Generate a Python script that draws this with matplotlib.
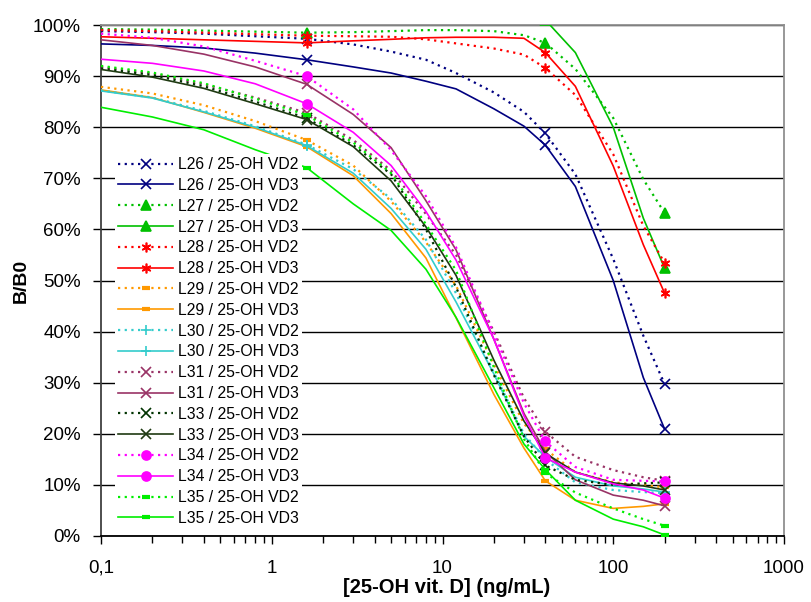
import numpy as np
import matplotlib
matplotlib.use('Agg')
import matplotlib.pyplot as plt
from matplotlib.ticker import FixedLocator, FuncFormatter, LogLocator, NullFormatter

plt.rcParams['font.family'] = ['Liberation Sans', 'DejaVu Sans']

nan = np.nan

# concentration grid (ng/mL)
conc = [0.1, 0.2, 0.4, 0.8, 1.6, 3, 5, 8, 12, 20, 30, 40, 60, 100, 150, 200]
# markers are shown only at the measured standards
measured_idx = [4, 11, 15]

# B/B0 in %
L26_VD2 = [98.8, 98.6, 98.3, 97.8, 97.3, 96.2, 94.8, 93.2, 90.6, 86.8, 83.0, 78.8, 70.8, 54.2, 39.2, 29.7]
L26_VD3 = [96.3, 96.0, 95.5, 94.5, 93.2, 91.8, 90.6, 89.0, 87.5, 83.6, 80.2, 76.5, 68.4, 50.0, 31.0, 20.9]
L27_VD2 = [99.2, 99.1, 98.9, 98.7, 98.5, 98.6, 98.8, 99.0, 99.0, 98.8, 98.0, 96.5, 91.4, 81.8, 69.8, 63.2]
L27_VD3 = [nan, nan, nan, nan, nan, nan, nan, nan, nan, nan, nan, 101.0, 94.6, 80.0, 62.2, 52.4]
L28_VD2 = [99.0, 98.8, 98.5, 98.2, 97.9, 97.8, 97.7, 97.2, 96.4, 95.4, 94.2, 91.6, 86.3, 74.7, 60.7, 53.4]
L28_VD3 = [97.7, 97.4, 97.1, 96.8, 96.5, 96.9, 97.2, 97.5, 97.6, 97.6, 97.4, 94.6, 88.0, 72.4, 57.0, 47.5]
L29_VD2 = [87.9, 86.6, 84.3, 81.2, 77.5, 72.5, 65.5, 57.5, 49.0, 33.5, 22.0, 17.0, 12.5, 10.5, 10.0, 9.5]
L29_VD3 = [87.3, 85.8, 82.9, 79.8, 76.2, 70.5, 63.1, 54.4, 42.7, 27.7, 17.2, 10.8, 7.0, 5.4, 5.8, 6.3]
L30_VD2 = [87.2, 85.8, 83.2, 80.2, 76.6, 71.8, 66.0, 58.0, 47.5, 32.0, 20.0, 15.0, 10.5, 9.0, 8.6, 8.4]
L30_VD3 = [87.1, 85.7, 83.0, 80.0, 76.4, 71.0, 64.1, 56.1, 45.8, 31.7, 19.5, 15.5, 11.5, 9.8, 9.2, 8.6]
L31_VD2 = [91.8, 90.5, 88.4, 85.8, 82.8, 77.5, 71.5, 63.0, 55.0, 40.0, 27.0, 20.4, 15.5, 12.9, 11.5, 10.8]
L31_VD3 = [97.1, 96.0, 94.3, 91.8, 88.4, 82.5, 76.0, 65.6, 56.0, 38.5, 24.0, 16.5, 11.0, 8.0, 7.0, 5.9]
L33_VD2 = [91.5, 90.2, 88.0, 85.0, 81.8, 76.5, 70.8, 60.0, 48.7, 31.5, 19.5, 13.8, 11.0, 10.0, 10.3, 10.5]
L33_VD3 = [91.3, 89.8, 87.6, 84.6, 81.5, 76.2, 69.5, 60.5, 51.0, 34.4, 22.5, 16.2, 12.5, 10.4, 9.8, 9.0]
L34_VD2 = [98.3, 97.5, 95.8, 93.0, 90.0, 83.5, 75.5, 66.5, 56.5, 39.5, 26.0, 18.5, 13.5, 11.0, 10.8, 10.7]
L34_VD3 = [93.3, 92.5, 91.0, 88.5, 84.6, 79.0, 72.5, 63.5, 54.0, 38.5, 23.5, 15.3, 12.5, 10.2, 9.0, 7.4]
L35_VD2 = [92.0, 90.7, 88.6, 85.6, 82.4, 77.0, 71.0, 61.0, 52.0, 33.0, 19.0, 12.3, 8.5, 5.4, 3.3, 2.0]
L35_VD3 = [83.9, 82.0, 79.5, 75.6, 72.1, 65.0, 59.8, 52.2, 42.8, 29.0, 18.0, 13.0, 7.0, 3.3, 1.8, 0.2]

# (label, values, colour, marker, dotted?)
series = [
    ('L26 / 25-OH VD2', L26_VD2, '#000080', 'x', True),
    ('L26 / 25-OH VD3', L26_VD3, '#000080', 'x', False),
    ('L27 / 25-OH VD2', L27_VD2, '#00c000', '^', True),
    ('L27 / 25-OH VD3', L27_VD3, '#00c000', '^', False),
    ('L28 / 25-OH VD2', L28_VD2, '#ff0000', (6, 2, 0), True),
    ('L28 / 25-OH VD3', L28_VD3, '#ff0000', (6, 2, 0), False),
    ('L29 / 25-OH VD2', L29_VD2, '#ff9900', '_', True),
    ('L29 / 25-OH VD3', L29_VD3, '#ff9900', '_', False),
    ('L30 / 25-OH VD2', L30_VD2, '#33cccc', '+', True),
    ('L30 / 25-OH VD3', L30_VD3, '#33cccc', '+', False),
    ('L31 / 25-OH VD2', L31_VD2, '#993366', 'x', True),
    ('L31 / 25-OH VD3', L31_VD3, '#993366', 'x', False),
    ('L33 / 25-OH VD2', L33_VD2, '#003300', 'x', True),
    ('L33 / 25-OH VD3', L33_VD3, '#1f3a12', 'x', False),
    ('L34 / 25-OH VD2', L34_VD2, '#ff00ff', 'o', True),
    ('L34 / 25-OH VD3', L34_VD3, '#ff00ff', 'o', False),
    ('L35 / 25-OH VD2', L35_VD2, '#00ee00', '_', True),
    ('L35 / 25-OH VD3', L35_VD3, '#00ee00', '_', False),
]

fig = plt.figure(figsize=(8.11, 6.02), dpi=100)
ax = fig.add_axes([101/811, 1-536/602, (784-101)/811, (536-25)/602])

for label, vals, col, mk, dotted in series:
    y = np.array(vals) / 100.0
    ls = (0, (1, 2)) if dotted else '-'
    lw = 1.6 if dotted else 1.2
    ms = 7
    mew = 1.2
    if mk == '_':
        ms, mew = 6, 3
    elif mk in ('^', 'o'):
        ms = 6.5
    ax.plot(conc, y, linestyle=ls, lw=lw, color=col, marker=mk,
            markevery=measured_idx, markersize=ms, markeredgewidth=mew,
            markerfacecolor=col, markeredgecolor=col, label=label, zorder=3)

ax.set_xscale('log')
ax.set_xlim(0.1, 1000)
ax.set_ylim(0, 1.0)

ax.xaxis.set_major_locator(FixedLocator([0.1, 1, 10, 100, 1000]))
ax.xaxis.set_major_formatter(FuncFormatter(lambda v, p: {0.1: '0,1'}.get(round(v, 1), '%g' % v)))
ax.xaxis.set_minor_locator(LogLocator(base=10, subs=np.arange(2, 10)))
ax.xaxis.set_minor_formatter(NullFormatter())
ax.yaxis.set_major_locator(FixedLocator(np.arange(0, 1.01, 0.1)))
ax.yaxis.set_major_formatter(FuncFormatter(lambda v, p: '%d%%' % round(v * 100)))

ax.tick_params(axis='both', which='major', direction='out', length=6, width=1, labelsize=13.5)
ax.tick_params(axis='y', which='major', pad=8.5)
ax.tick_params(axis='x', which='minor', direction='out', length=5, width=1)
ax.tick_params(axis='x', which='major', pad=11)

ax.grid(axis='y', color='black', lw=1, zorder=1)
ax.spines['left'].set_color('#404040')
ax.spines['bottom'].set_color('black')
ax.spines['top'].set_color('#909090')
ax.spines['right'].set_color('#909090')
for s in ax.spines.values():
    s.set_linewidth(1.3)

ax.set_xlabel('[25-OH vit. D] (ng/mL)', fontsize=14.5, fontweight='bold', labelpad=0)
ax.xaxis.set_label_coords(0.506, -0.083)
ax.set_ylabel('B/B0', fontsize=14, fontweight='bold', labelpad=2)

leg = ax.legend(loc='upper left', bbox_to_anchor=(115/811, 1-154/602), bbox_transform=fig.transFigure,
                fontsize=11.3, frameon=True, facecolor='white', edgecolor='none', framealpha=1,
                fancybox=False, borderpad=0.2, borderaxespad=0, handlelength=3.5,
                handletextpad=0.3, labelspacing=0.37)
leg.set_zorder(4)

fig.savefig('out.png', dpi=100)
